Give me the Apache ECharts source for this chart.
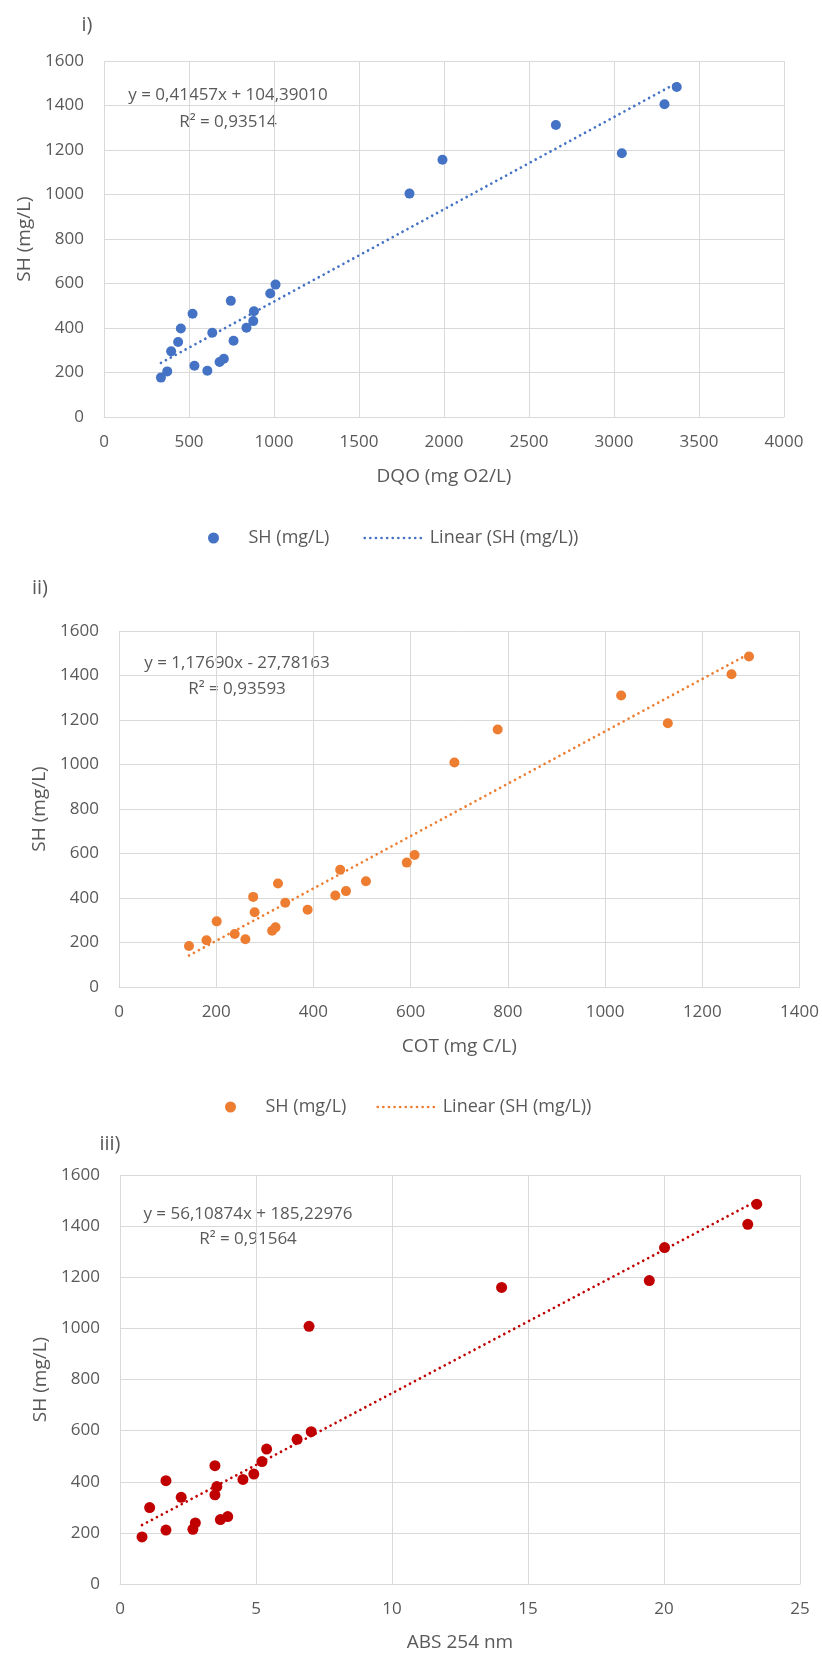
<!DOCTYPE html>
<html><head><meta charset="utf-8">
<script src="https://cdn.jsdelivr.net/npm/echarts@6/dist/echarts.min.js"></script>
<style>html,body{margin:0;padding:0;background:#fff}#c{width:822px;height:1655px}</style>
</head><body><div id="c"></div>
<script>
// ---- data ----
const dqo  = [335,372,395,436,452,521,532,608,637,680,705,746,762,838,878,882,978,1009,1797,1991,2658,3046,3297,3369];
const shI  = [177,205,295,337,398,464,230,208,379,247,262,522,343,401,431,475,555,595,1004,1156,1312,1185,1406,1483];
const cot  = [144,180,201,238,260,276,279,315,322,327,342,388,445,455,467,508,592,608,690,779,1033,1129,1260,1296];
const shII = [184,210,295,238,215,405,336,253,268,465,379,347,411,527,431,475,559,593,1009,1157,1310,1185,1406,1485];
const abs254 = [0.81,1.09,1.69,1.69,2.25,2.68,2.77,3.49,3.49,3.56,3.69,3.96,4.52,4.92,5.22,5.39,6.51,7.03,6.95,14.03,19.46,20.02,23.08,23.41];
const shIII  = [184,299,211,404,339,214,239,463,349,381,252,264,409,430,479,528,566,596,1008,1160,1187,1316,1407,1486];
const slopes = [0.41457, 1.17690, 56.10874];
const intercepts = [104.39010, -27.78163, 185.22976];
const equations = ['y = 0,41457x + 104,39010', 'y = 1,17690x - 27,78163', 'y = 56,10874x + 185,22976'];
const r2Labels = ['R² = 0,93514', 'R² = 0,93593', 'R² = 0,91564'];
const panelLabels = ['i)', 'ii)', 'iii)'];
const xTitles = ['DQO (mg O2/L)', 'COT (mg C/L)', 'ABS 254 nm'];
const yTitle = 'SH (mg/L)';
const xMax = [4000, 1400, 25];
const xStep = [500, 200, 5];
const seriesName = 'SH (mg/L)';
const trendName = 'Linear (SH (mg/L))';

const FONT = 'Open Sans';
const TXT = '#595959';
const GRIDC = '#d9d9d9';
const colors = ['#4472C4', '#ED7D31', '#C00000'];
const xs = [dqo, cot, abs254];
const ys = [shI, shII, shIII];
const DOT = {width:2.7, type:[0.01, 5.6], cap:'round'};

const grids = [
  {left:104, right:38, top:61, height:356},
  {left:119, right:22, top:631, height:356},
  {left:120, right:22, top:1175, height:409}
];
const yNameGap = [62, 64, 64];
const xNameGap = [50, 50, 49];

const plain = v => String(v);
const xAxes = [], yAxes = [], series = [];
for (let i = 0; i < 3; i++) {
  xAxes.push({
    gridIndex:i, type:'value', min:0, max:xMax[i], interval:xStep[i],
    name:xTitles[i], nameLocation:'middle', nameGap:xNameGap[i],
    nameTextStyle:{fontFamily:FONT, fontSize:19, color:TXT},
    axisLine:{show:true, lineStyle:{color:GRIDC, width:1}},
    axisTick:{show:false},
    axisLabel:{fontFamily:FONT, fontSize:17, color:TXT, margin:17, formatter:plain},
    splitLine:{show:true, lineStyle:{color:GRIDC, width:1}}
  });
  yAxes.push({
    gridIndex:i, type:'value', min:0, max:1600, interval:200,
    name:yTitle, nameLocation:'middle', nameGap:yNameGap[i], nameRotate:90,
    nameTextStyle:{fontFamily:FONT, fontSize:19, color:TXT},
    axisLine:{show:false}, axisTick:{show:false},
    axisLabel:{fontFamily:FONT, fontSize:17, color:TXT, margin:20, formatter:plain},
    splitLine:{show:true, lineStyle:{color:GRIDC, width:1}}
  });
  const pts = xs[i].map((x, k) => [x, ys[i][k]]);
  const lo = Math.min(...xs[i]), hi = Math.max(...xs[i]);
  series.push({
    name: seriesName + '#' + i, type:'scatter', xAxisIndex:i, yAxisIndex:i,
    data: pts, symbol:'circle', symbolSize: i === 2 ? 11 : 10,
    itemStyle:{color:colors[i], opacity:1}, z:3
  });
  series.push({
    name: trendName + '#' + i, type:'line', xAxisIndex:i, yAxisIndex:i,
    data: [[lo, slopes[i]*lo + intercepts[i]], [hi, slopes[i]*hi + intercepts[i]]],
    symbol:'none', showSymbol:false, silent:true,
    itemStyle:{color:'rgba(0,0,0,0)'},
    lineStyle:Object.assign({color:colors[i]}, DOT), z:2
  });
}

const stripName = n => n.replace(/#\d$/, '');
const mkLegend = (i, left, top, gap) => ({
  orient:'horizontal', left:left, top:top, itemGap:gap, padding:0,
  itemWidth:60, itemHeight:11, formatter:stripName, selectedMode:false,
  textStyle:{fontFamily:FONT, fontSize:18, color:TXT},
  data:[
    {name:seriesName + '#' + i, icon:'circle', itemStyle:{color:colors[i]}},
    {name:trendName + '#' + i, itemStyle:{color:'rgba(0,0,0,0)'},
     lineStyle:Object.assign({color:colors[i]}, DOT)}
  ]
});
const legends = [mkLegend(0, 208, 529, 34), mkLegend(1, 225, 1098, 30)];

const textPos = [
  {lab:[87,25], eq:[228,95], r2:[228,122]},
  {lab:[40,588], eq:[237,663], r2:[237,689]},
  {lab:[110,1144], eq:[248,1214], r2:[248,1239]}
];
const graphic = [];
for (let i = 0; i < 3; i++) {
  const p = textPos[i];
  graphic.push({type:'text', x:p.lab[0], y:p.lab[1], style:{text:panelLabels[i], fill:TXT, font:'20px "Open Sans"', align:'center', verticalAlign:'middle'}});
  graphic.push({type:'text', x:p.eq[0], y:p.eq[1], style:{text:equations[i], fill:TXT, font:'17px "Open Sans"', align:'center', verticalAlign:'middle'}});
  graphic.push({type:'text', x:p.r2[0], y:p.r2[1], style:{text:r2Labels[i], fill:TXT, font:'17px "Open Sans"', align:'center', verticalAlign:'middle'}});
}

const chart = echarts.init(document.getElementById('c'), null, {renderer:'canvas'});
chart.setOption({
  backgroundColor:'#ffffff', animation:false,
  grid:grids, xAxis:xAxes, yAxis:yAxes, series:series, legend:legends, graphic:graphic
});
</script>
</body></html>
